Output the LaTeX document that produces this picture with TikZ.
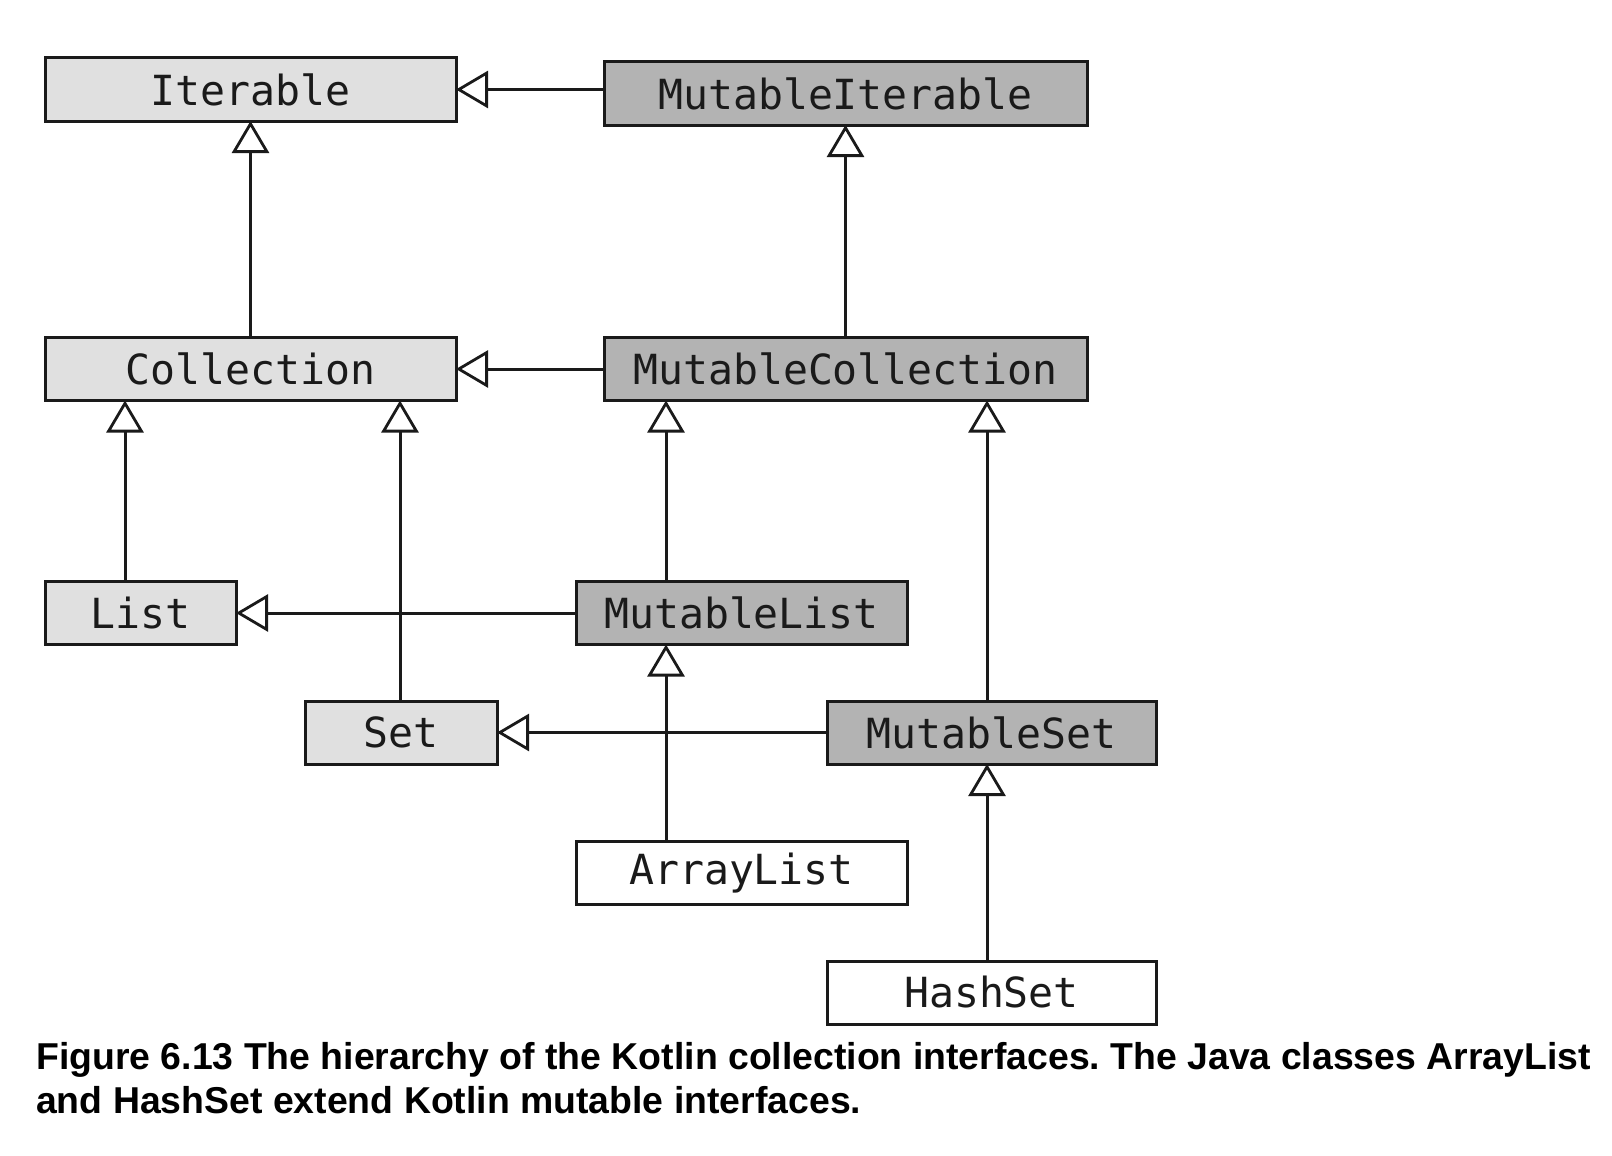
\documentclass[tikz,border=0pt]{standalone}
\usepackage{fontspec}
\setmainfont{Liberation Sans}
\newfontfamily\boxfont{DejaVu Sans Mono}
\usetikzlibrary{arrows.meta}
\definecolor{lightfill}{HTML}{E0E0E0}
\definecolor{darkfill}{HTML}{B3B3B3}
\definecolor{ink}{HTML}{1A1A1A}
\frenchspacing
\begin{document}
\begin{tikzpicture}[x=1pt,y=-1pt,
  cls/.style={draw=ink, line width=3pt, inner sep=0pt, outer sep=0pt,
    minimum height=63pt, font=\boxfont\fontsize{41.5}{48}\selectfont, text=ink},
  lightbox/.style={cls, fill=lightfill},
  darkbox/.style={cls, fill=darkfill},
  whitebox/.style={cls, fill=white},
  inherit/.style={draw=ink, line width=3pt,
    -{Triangle[open, length=32pt, width=37pt, line width=2.8pt]}}]
\useasboundingbox[fill=white] (0,0) rectangle (1612,1156);

\node[lightbox, minimum width=411pt] (iter) at (250.5,89.5) {Iterable};
\node[darkbox, minimum width=483pt] (miter) at (845.5,93.5) {MutableIterable};
\node[lightbox, minimum width=411pt] (coll) at (250.5,369) {Collection};
\node[darkbox, minimum width=483pt] (mcoll) at (845.5,369) {MutableCollection};
\node[lightbox, minimum width=191pt] (list) at (140.5,613) {List};
\node[darkbox, minimum width=331pt] (mlist) at (741.5,613) {MutableList};
\node[lightbox, minimum width=192pt] (set) at (401,732.5) {Set};
\node[darkbox, minimum width=329pt] (mset) at (991.5,732.5) {MutableSet};
\node[whitebox, minimum width=331pt] (alist) at (741.5,873) {ArrayList};
\node[whitebox, minimum width=329pt] (hset) at (991.5,992.5) {HashSet};

\coordinate (xa) at (125,0);
\coordinate (xb) at (400,0);
\coordinate (xc) at (666,0);
\coordinate (xd) at (987,0);

% vertical inheritance
\draw[inherit] (coll.north) -- (iter.south);
\draw[inherit] (mcoll.north) -- (miter.south);
\draw[inherit] (list.north -| xa) -- (coll.south -| xa);
\draw[inherit] (set.north -| xb) -- (coll.south -| xb);
\draw[inherit] (mlist.north -| xc) -- (mcoll.south -| xc);
\draw[inherit] (mset.north -| xd) -- (mcoll.south -| xd);
\draw[inherit] (alist.north -| xc) -- (mlist.south -| xc);
\draw[inherit] (hset.north -| xd) -- (mset.south -| xd);

% horizontal inheritance
\draw[inherit] (miter.west |- iter.east) -- (iter.east);
\draw[inherit] (mcoll.west) -- (coll.east);
\draw[inherit] (mlist.west) -- (list.east);
\draw[inherit] (mset.west) -- (set.east);

% caption
\node[anchor=base west, inner sep=0pt, font=\bfseries\fontsize{37.4}{44}\selectfont, align=left] (cap) at (36,1113)
  {Figure 6.13 The hierarchy of the Kotlin collection interfaces. The Java classes ArrayList\\
   and HashSet extend Kotlin mutable interfaces.};
\end{tikzpicture}
\end{document}
